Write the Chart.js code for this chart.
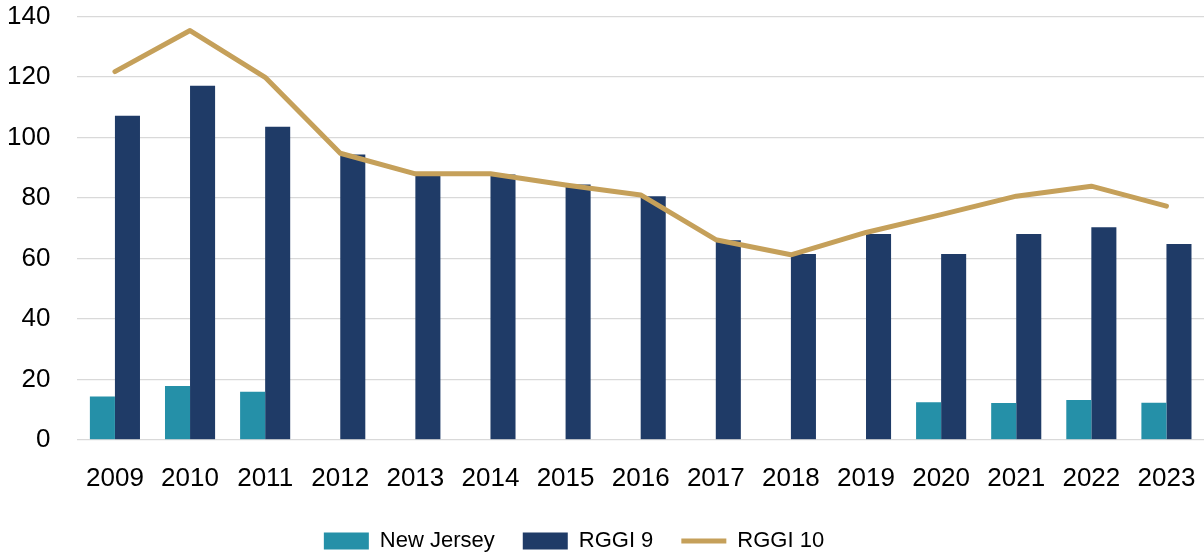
<!DOCTYPE html>
<html lang="en">
<head>
    <meta charset="UTF-8">
    <title>RGGI Chart</title>
    <script src="https://cdn.jsdelivr.net/npm/chart.js@4.4.1/dist/chart.umd.min.js"></script>
    <style>
        body {
            margin: 0;
            background-color: #ffffff;
            font-family: 'Liberation Sans', Arial, sans-serif;
        }

        #container {
            width: 1204px;
            height: 556px;
        }
    </style>
</head>
<body>
    <div id="container">
        <canvas id="rggiChart"></canvas>
    </div>

    <script>
        const years = ['2009', '2010', '2011', '2012', '2013', '2014', '2015', '2016',
                       '2017', '2018', '2019', '2020', '2021', '2022', '2023'];

        const newJersey = [14.3, 17.8, 15.9, null, null, null, null, null,
                           null, null, null, 12.4, 12.2, 13.2, 12.3];
        const rggi9 = [107.2, 117.1, 103.6, 94.4, 87.8, 87.8, 84.5, 80.6,
                       66.0, 61.5, 68.1, 61.5, 68.1, 70.3, 64.8];
        const rggi10 = [121.8, 135.4, 119.9, 94.8, 88.0, 88.0, 84.3, 81.0,
                        66.2, 61.2, 68.6, 74.5, 80.6, 83.9, 77.3];

        const yTicks = [0, 20, 40, 60, 80, 100, 120, 140];

        const colors = {
            nj: '#2590a8',
            rggi9: '#1f3b67',
            rggi10: '#c5a05a',
            grid: '#d9d9d9',
            text: '#000000'
        };

        Chart.defaults.font.family = "'Liberation Sans', Arial, sans-serif";
        Chart.defaults.color = colors.text;

        // the legend sits a bit left of centre in the original
        const legendShift = {
            id: 'legendShift',
            afterLayout(chart) {
                chart.legend.right -= 62;
            }
        };

        const ctx = document.getElementById('rggiChart').getContext('2d');
        new Chart(ctx, {
            type: 'bar',
            data: {
                labels: years,
                datasets: [
                    {
                        label: 'New Jersey',
                        data: newJersey,
                        backgroundColor: colors.nj,
                        borderWidth: 0,
                        pointStyle: 'rect',
                        categoryPercentage: 0.667,
                        barPercentage: 1.0,
                        order: 1
                    },
                    {
                        label: 'RGGI 9',
                        data: rggi9,
                        backgroundColor: colors.rggi9,
                        borderWidth: 0,
                        pointStyle: 'rect',
                        categoryPercentage: 0.667,
                        barPercentage: 1.0,
                        order: 1
                    },
                    {
                        type: 'line',
                        label: 'RGGI 10',
                        data: rggi10,
                        borderColor: colors.rggi10,
                        backgroundColor: colors.rggi10,
                        borderWidth: 5,
                        borderCapStyle: 'round',
                        borderJoinStyle: 'round',
                        pointRadius: 0,
                        pointHoverRadius: 0,
                        pointStyle: 'line',
                        tension: 0,
                        fill: false,
                        order: 0
                    }
                ]
            },
            options: {
                responsive: true,
                maintainAspectRatio: false,
                animation: false,
                layout: {
                    padding: { left: 6, right: 0, top: 1, bottom: -6 }
                },
                plugins: {
                    tooltip: { enabled: false },
                    legend: {
                        position: 'bottom',
                        labels: {
                            usePointStyle: true,
                            pointStyleWidth: 45,
                            boxHeight: 17,
                            padding: 28,
                            font: { size: 22 },
                            sort: (a, b) => a.datasetIndex - b.datasetIndex
                        }
                    }
                },
                scales: {
                    x: {
                        grid: {
                            display: true,
                            color: 'transparent',
                            tickColor: 'transparent',
                            drawTicks: true,
                            tickLength: 15
                        },
                        border: { display: false },
                        ticks: {
                            font: { size: 26, lineHeight: 1.66 },
                            padding: 2,
                            maxRotation: 0,
                            autoSkip: false
                        }
                    },
                    y: {
                        min: 0,
                        max: 140,
                        afterBuildTicks: axis => {
                            axis.ticks = yTicks.map(v => ({ value: v }));
                        },
                        grid: {
                            color: colors.grid,
                            lineWidth: 1.3,
                            tickColor: 'transparent',
                            drawTicks: true,
                            tickLength: 26
                        },
                        border: { display: false },
                        ticks: {
                            font: { size: 26 },
                            padding: 1
                        }
                    }
                }
            },
            plugins: [legendShift]
        });
    </script>
</body>
</html>
